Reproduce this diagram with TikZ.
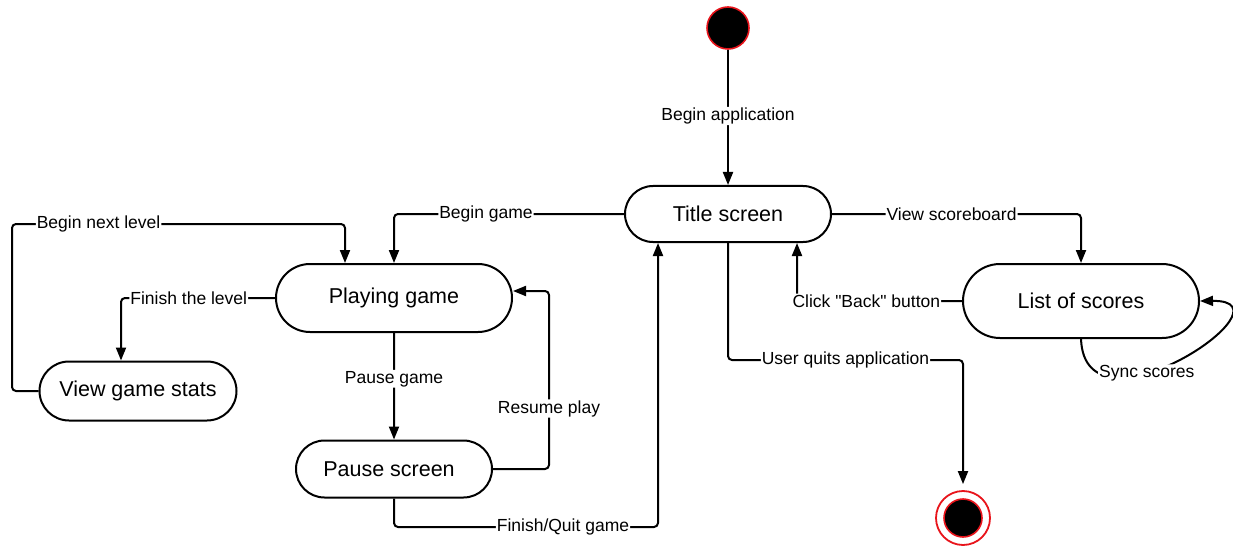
\documentclass[tikz,border=0pt]{standalone}
\usepackage{fontspec}
\setmainfont{Liberation Sans}[Ligatures=TeXOff]
\usepackage{tikz}
\usetikzlibrary{shapes.misc,arrows.meta,calc}
\definecolor{ringRed}{HTML}{E8141B}

\begin{document}
\begin{tikzpicture}[
  x=1pt,y=-1pt,
  state/.style={draw,line width=2pt,rounded rectangle,inner sep=0pt,
                font=\fontsize{21.5}{25}\selectfont},
  lbl/.style={fill=white,inner sep=1pt,font=\fontsize{17.5}{20}\selectfont},
  ar/.style={-{Triangle[length=13pt,width=10pt]},line width=2pt,rounded corners=4pt}]

\useasboundingbox (0,0) rectangle (1233,548);

% initial and final pseudo-states
\node[circle,fill=black,draw=ringRed,line width=1.6pt,minimum size=42pt,inner sep=0pt] (start) at (728,28) {};
\node[circle,draw=ringRed,line width=1.8pt,minimum size=54pt,inner sep=0pt] (stop) at (963,518) {};
\node[circle,fill=black,draw=ringRed,line width=1.6pt,minimum size=38pt,inner sep=0pt] (stopdot) at (stop) {};

% states
\node[state,minimum width=206pt,minimum height=56pt] (title) at (728,214) {Title screen};
\node[state,minimum width=236pt,minimum height=68pt] (playing) at (394,298) {Playing game};
\node[state,minimum width=197pt,minimum height=59pt] (stats) at (138,391) {View game stats};
\node[state,minimum width=196pt,minimum height=57pt] (pause) at (394,469) {Pause screen\hspace*{10pt}};
\node[state,minimum width=236pt,minimum height=74pt] (scores) at (1081,301) {List of scores};

% transitions
\draw[ar] (start) -- node[lbl,pos=0.49]{Begin application} (title);
\draw[ar] (title.west) -| node[lbl,pos=0.30]{Begin game} (playing.north);
\draw[ar] (title.east) -| node[lbl,pos=0.24]{View scoreboard} (scores.north);
\draw[ar] (scores.west) -| node[lbl,pos=0.29]{Click "Back" button} (title.south -| 797,0);
\draw[ar,shorten >=6pt] (title.south) |- node[lbl,pos=0.75]{User quits application} (963,360) -- (stop);
\draw[ar] (scores.south) .. controls (1085,445) and (1300,300) .. node[lbl,pos=0.375]{Sync scores} (scores.east);
\draw[ar] (playing.west) -| node[lbl,pos=0.28]{Finish the level} (stats.north -| 121,0);
\draw[ar] (stats.west) -| (12,224) -| node[lbl,pos=0.13]{Begin next level} ([xshift=-49pt]playing.north);
\draw[ar] (playing) -- node[lbl,pos=0.43]{Pause game} (pause);
\draw[ar] (pause.east) -| node[lbl,pos=0.67]{Resume play} (549,291) -- ([yshift=7pt]playing.east);
\draw[ar] (pause.south) |- node[lbl,pos=0.82]{Finish/Quit game} (658,527) -- (title.south -| 658,0);
\end{tikzpicture}
\end{document}
